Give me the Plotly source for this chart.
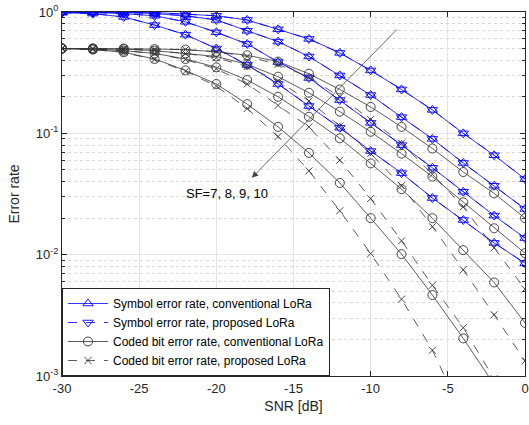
import plotly.graph_objects as go
import math

snr = [-30, -28, -26, -24, -22, -20, -18, -16, -14, -12, -10, -8, -6, -4, -2, 0]

ser_conv_sf7 = [0.999, 0.998, 0.995, 0.99, 0.96, 0.93, 0.86, 0.72, 0.60, 0.46, 0.33, 0.23, 0.156, 0.10, 0.066, 0.042]
ser_conv_sf8 = [0.998, 0.995, 0.99, 0.97, 0.93, 0.86, 0.70, 0.57, 0.43, 0.30, 0.207, 0.136, 0.090, 0.057, 0.037, 0.0238]
ser_conv_sf9 = [0.995, 0.99, 0.97, 0.93, 0.83, 0.68, 0.545, 0.387, 0.286, 0.188, 0.122, 0.080, 0.052, 0.033, 0.021, 0.0137]
ser_conv_sf10 = [0.985, 0.97, 0.91, 0.78, 0.65, 0.50, 0.366, 0.255, 0.168, 0.111, 0.0715, 0.047, 0.0293, 0.0193, 0.0125, 0.0085]

ser_prop_sf7 = [0.999, 0.998, 0.995, 0.99, 0.96, 0.93, 0.86, 0.72, 0.60, 0.46, 0.33, 0.23, 0.156, 0.10, 0.066, 0.042]
ser_prop_sf8 = [0.998, 0.995, 0.99, 0.97, 0.93, 0.86, 0.70, 0.57, 0.43, 0.30, 0.207, 0.136, 0.090, 0.057, 0.037, 0.0238]
ser_prop_sf9 = [0.995, 0.99, 0.97, 0.93, 0.83, 0.68, 0.545, 0.387, 0.286, 0.188, 0.122, 0.080, 0.052, 0.033, 0.021, 0.0137]
ser_prop_sf10 = [0.985, 0.97, 0.91, 0.78, 0.65, 0.50, 0.366, 0.255, 0.168, 0.111, 0.0715, 0.047, 0.0293, 0.0193, 0.0125, 0.0085]

ber_conv_sf7 = [0.5, 0.5, 0.5, 0.495, 0.49, 0.47, 0.44, 0.39, 0.31, 0.23, 0.165, 0.113, 0.075, 0.048, 0.032, 0.020]
ber_conv_sf8 = [0.5, 0.5, 0.495, 0.48, 0.456, 0.43, 0.37, 0.293, 0.216, 0.151, 0.103, 0.068, 0.044, 0.027, 0.0165, 0.0103]
ber_conv_sf9 = [0.5, 0.495, 0.48, 0.456, 0.41, 0.35, 0.275, 0.20, 0.137, 0.091, 0.0565, 0.0347, 0.020, 0.0109, 0.0059, 0.00274]
ber_conv_sf10 = [0.5, 0.49, 0.466, 0.41, 0.33, 0.255, 0.174, 0.113, 0.069, 0.039, 0.020, 0.0101, 0.00465, 0.00204, 0.00085, 0.0003]

ber_prop_sf7 = [0.5, 0.5, 0.5, 0.495, 0.49, 0.47, 0.43, 0.37, 0.29, 0.20, 0.13, 0.083, 0.046, 0.0248, 0.0114, 0.0052]
ber_prop_sf8 = [0.5, 0.5, 0.495, 0.48, 0.455, 0.42, 0.355, 0.27, 0.185, 0.115, 0.068, 0.037, 0.017, 0.0075, 0.0032, 0.00133]
ber_prop_sf9 = [0.5, 0.495, 0.48, 0.455, 0.405, 0.34, 0.255, 0.17, 0.113, 0.060, 0.029, 0.013, 0.0056, 0.0025, 0.00095, 0.0004]
ber_prop_sf10 = [0.5, 0.49, 0.465, 0.405, 0.325, 0.245, 0.16, 0.094, 0.049, 0.023, 0.0102, 0.0043, 0.00163, 0.0005, 0.00014, 0.00004]

y_tickvals = [0.001, 0.01, 0.1, 1]
y_ticktext = ["10<sup>-3</sup>", "10<sup>-2</sup>", "10<sup>-1</sup>", "10<sup>0</sup>"]
x_tickvals = [-30, -25, -20, -15, -10, -5, 0]
x_ticktext = ["-30", "-25", "-20", "-15", "-10", "-5", "0"]

legend_names = [
    "Symbol error rate, conventional LoRa",
    "Symbol error rate, proposed LoRa",
    "Coded bit error rate, conventional LoRa",
    "Coded bit error rate, proposed LoRa",
]
arrow_label = "SF=7, 8, 9, 10"

FONT = "Liberation Sans, Arial, sans-serif"

groups = [
    ([ser_conv_sf7, ser_conv_sf8, ser_conv_sf9, ser_conv_sf10], "#0000ff", "solid", "triangle-up-open", 9),
    ([ser_prop_sf7, ser_prop_sf8, ser_prop_sf9, ser_prop_sf10], "#0000ff", "dash", "triangle-down-open", 9),
    ([ber_conv_sf7, ber_conv_sf8, ber_conv_sf9, ber_conv_sf10], "#333333", "solid", "circle-open", 9),
    ([ber_prop_sf7, ber_prop_sf8, ber_prop_sf9, ber_prop_sf10], "#333333", "dash", "x-thin-open", 7),
]

fig = go.Figure()
for gi, (series, color, dash, sym, msize) in enumerate(groups):
    for si, vals in enumerate(series):
        fig.add_trace(go.Scatter(
            x=snr, y=vals, mode="lines+markers",
            name=legend_names[gi], legendgroup=legend_names[gi],
            showlegend=(si == 0),
            line=dict(color=color, width=0.8, dash=dash),
            marker=dict(symbol=sym, size=msize, color=color,
                        line=dict(color=color, width=0.9)),
            cliponaxis=True,
        ))

arrow_tail = (-8.2, 0.74)
arrow_head = (-17.7, 0.043)
fig.add_annotation(
    x=arrow_head[0], y=math.log10(arrow_head[1]),
    ax=arrow_tail[0], ay=math.log10(arrow_tail[1]),
    xref="x", yref="y", axref="x", ayref="y",
    text="", showarrow=True, arrowhead=2, arrowsize=1.6, arrowwidth=0.8,
    arrowcolor="#444444",
)
fig.add_annotation(
    x=-19.3, y=math.log10(0.032), xref="x", yref="y",
    text=arrow_label, showarrow=False,
    font=dict(size=13, color="#000000", family=FONT),
)

axis_common = dict(
    showline=True, linecolor="#262626", linewidth=1, mirror="ticks",
    ticks="inside", ticklen=5, tickcolor="#262626",
    showgrid=True, gridcolor="#e3e3e3", gridwidth=1,
    zeroline=False, automargin=False,
    tickfont=dict(size=13, color="#262626", family=FONT),
)

fig.update_xaxes(
    range=[-30, 0], tickvals=x_tickvals, ticktext=x_ticktext,
    title=dict(text="SNR [dB]", font=dict(size=14, color="#262626", family=FONT), standoff=6),
    **axis_common,
)
fig.update_yaxes(
    type="log", range=[-3, 0], tickvals=y_tickvals, ticktext=y_ticktext,
    title=dict(text="Error rate", font=dict(size=14, color="#262626", family=FONT), standoff=12),
    minor=dict(dtick="D1", ticks="inside", ticklen=3, tickcolor="#262626", showgrid=True,
               gridcolor="#d8d8d8", griddash="dot", gridwidth=1),
    **axis_common,
)

fig.update_layout(
    width=529, height=425,
    margin=dict(l=62, r=4, t=12, b=49, autoexpand=False),
    paper_bgcolor="white", plot_bgcolor="white",
    showlegend=True,
    legend=dict(
        x=0, y=0, xanchor="left", yanchor="bottom",
        bgcolor="white", bordercolor="#262626", borderwidth=1,
        font=dict(size=12, color="#000000", family=FONT),
        tracegroupgap=0, itemwidth=40,
    ),
)

fig.write_html("out.html", config={"displayModeBar": False},
               post_script="document.body.style.margin='0px';")
